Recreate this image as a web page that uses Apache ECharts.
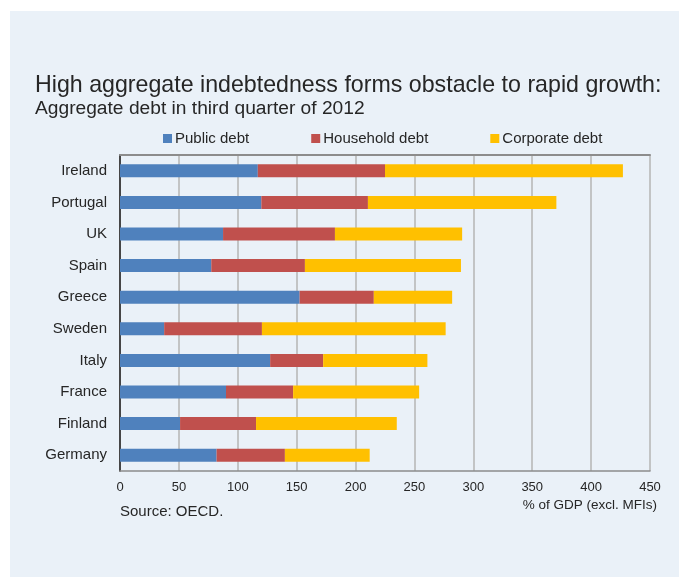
<!DOCTYPE html>
<html>
<head>
<meta charset="utf-8">
<script src="https://cdn.jsdelivr.net/npm/echarts@6/dist/echarts.min.js"></script>
<style>
  html, body { margin: 0; padding: 0; background: #ffffff; }
  #chart { width: 679px; height: 578px; }
</style>
</head>
<body>
<div id="chart"></div>
<script>
// Aggregate debt by sector, % of GDP (excl. MFIs), Q3 2012
const countries = ['Ireland', 'Portugal', 'UK', 'Spain', 'Greece', 'Sweden', 'Italy', 'France', 'Finland', 'Germany'];
const publicDebt    = [117, 120, 87.5, 77.5, 152.5, 37.5, 127.5, 90, 51, 82];
const householdDebt = [108, 90.5, 95, 79.5, 63, 83, 45, 57, 64.5, 58];
const corporateDebt = [202, 160, 108, 132.5, 66.5, 156, 88.5, 107, 119.5, 72];
const xTicks = { min: 0, max: 450, step: 50 };

const seriesNames = ['Public debt', 'Household debt', 'Corporate debt'];
const seriesColors = ['#4F81BD', '#C0504D', '#FFC000'];
const seriesData = [publicDebt, householdDebt, corporateDebt];

const FONT = "'Liberation Sans', Arial, sans-serif";
const TEXT = '#262626';

const chart = echarts.init(document.getElementById('chart'), null, { renderer: 'canvas' });

chart.setOption({
  backgroundColor: '#ffffff',
  animation: false,
  textStyle: { fontFamily: FONT },
  graphic: [
    { type: 'rect', z: -10, silent: true,
      shape: { x: 10, y: 11, width: 669, height: 566 },
      style: { fill: '#EAF1F8' } },
    { type: 'text', x: 35, y: 85.5,
      style: { text: 'High aggregate indebtedness forms obstacle to rapid growth:',
               font: '23.2px ' + FONT, fill: TEXT, textVerticalAlign: 'middle' } },
    { type: 'text', x: 35, y: 108.5,
      style: { text: 'Aggregate debt in third quarter of 2012',
               font: '19.2px ' + FONT, fill: TEXT, textVerticalAlign: 'middle' } },
    { type: 'text', x: 120, y: 512,
      style: { text: 'Source: OECD.', font: '15px ' + FONT, fill: TEXT, textVerticalAlign: 'middle' } },
    { type: 'text', x: 657, y: 505,
      style: { text: '% of GDP (excl. MFIs)', font: '13.5px ' + FONT, fill: TEXT,
               textAlign: 'right', textVerticalAlign: 'middle' } }
  ],
  legend: {
    left: 163, top: 131, padding: 0,
    itemWidth: 9, itemHeight: 9, itemGap: 62,
    icon: 'rect',
    textStyle: { fontSize: 15, color: TEXT, fontFamily: FONT, padding: [0, 0, 0, -2] },
    data: seriesNames
  },
  grid: { left: 120, right: 29, top: 155, bottom: 107, containLabel: false },
  xAxis: [
    {
      type: 'value', position: 'bottom',
      min: xTicks.min, max: xTicks.max, interval: xTicks.step,
      axisLine: { show: true, lineStyle: { color: '#8C8C8C', width: 1.5 } },
      axisTick: { show: false },
      axisLabel: { fontSize: 13, color: TEXT, margin: 10, fontFamily: FONT },
      splitLine: { show: true, lineStyle: { color: '#B4B4B4', width: 1.5 } }
    },
    {
      type: 'value', position: 'top',
      min: xTicks.min, max: xTicks.max, interval: xTicks.step,
      axisLine: { show: true, lineStyle: { color: '#8C8C8C', width: 2 } },
      axisTick: { show: false }, axisLabel: { show: false }, splitLine: { show: false }
    }
  ],
  yAxis: [
    {
      type: 'category', data: countries, inverse: true, position: 'left',
      axisLine: { show: true, lineStyle: { color: '#8C8C8C', width: 1.5 } },
      axisTick: { show: false },
      axisLabel: { fontSize: 15, color: TEXT, margin: 13, fontFamily: FONT },
      splitLine: { show: false }
    },
    {
      type: 'category', data: countries, inverse: true, position: 'right',
      axisLine: { show: true, lineStyle: { color: '#2A2A2A', width: 1.5 } },
      axisTick: { show: false }, axisLabel: { show: false }, splitLine: { show: false }
    }
  ],
  series: seriesNames.map((name, i) => ({
    name,
    type: 'bar',
    stack: 'debt',
    barWidth: 13,
    xAxisIndex: 0, yAxisIndex: 0,
    itemStyle: { color: seriesColors[i] },
    data: seriesData[i]
  }))
});
</script>
</body>
</html>
